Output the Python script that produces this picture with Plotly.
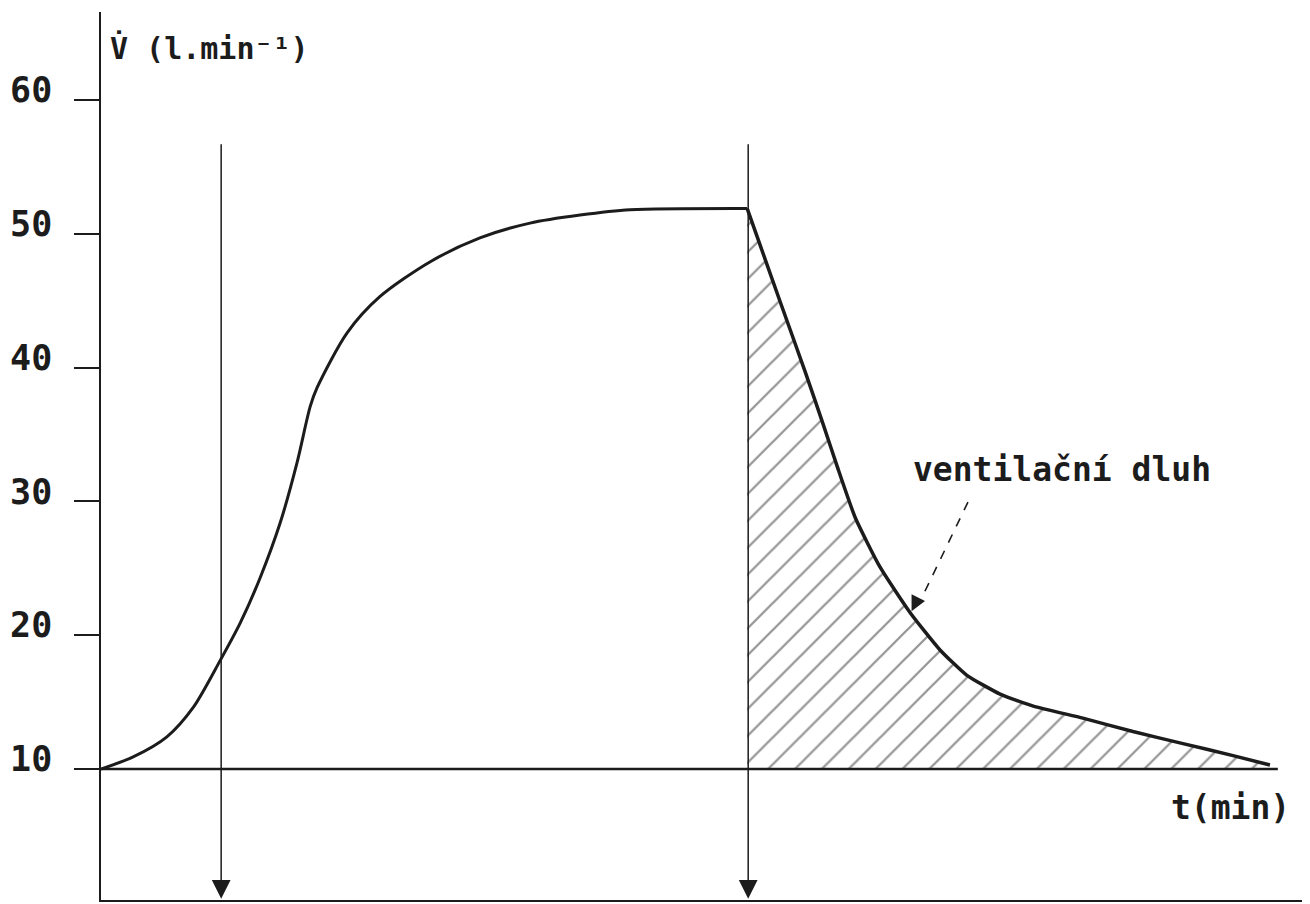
import plotly.graph_objects as go

# ventilation during and after exercise
rise_t = [0.0, 0.61, 1.25, 1.75, 2.26, 2.64, 3.02, 3.40, 3.72, 3.97, 4.10, 4.67, 5.29, 6.24, 7.19, 8.14, 9.09, 10.04, 12.26]
rise_v = [10.0, 10.9, 12.4, 14.6, 18.1, 20.9, 24.3, 28.4, 32.9, 37.1, 38.5, 42.6, 45.3, 47.9, 49.7, 50.8, 51.4, 51.8, 51.9]

decay_t = [12.26, 12.88, 13.36, 13.70, 13.97, 14.31, 14.78, 15.35, 15.92, 16.43, 17.06, 17.69, 18.63, 19.58, 20.53, 21.48, 22.18]
decay_v = [51.9, 45.0, 39.7, 35.8, 32.6, 28.8, 25.1, 21.7, 18.9, 17.0, 15.6, 14.7, 13.8, 12.8, 11.9, 11.0, 10.3]

rest_level = 10
baseline_t = [0.0, 22.33]
exercise_marks = [2.28, 12.28]

y_ticks = [10, 20, 30, 40, 50, 60]
y_ticktext = ['10', '20', '30', '40', '50', '60']

font_family = 'DejaVu Sans Mono'
ink = '#1c1c1c'

fig = go.Figure()

# hatched debt area under the recovery curve
fig.add_trace(go.Scatter(x=decay_t + [decay_t[-1], decay_t[0]],
                         y=decay_v + [rest_level, rest_level],
                         mode='lines', line={'width': 0},
                         fill='toself', fillcolor='rgba(0,0,0,0)',
                         fillpattern={'shape': '/', 'size': 19, 'solidity': 0.12,
                                      'fgcolor': '#2a2a2a', 'bgcolor': 'white'},
                         hoverinfo='skip', showlegend=False))

# resting level line
fig.add_trace(go.Scatter(x=baseline_t, y=[rest_level, rest_level], mode='lines',
                         line={'color': ink, 'width': 2.5}, showlegend=False))

fig.add_trace(go.Scatter(x=rise_t, y=rise_v, mode='lines',
                         line={'color': ink, 'width': 3, 'shape': 'spline', 'smoothing': 0.8},
                         showlegend=False))
fig.add_trace(go.Scatter(x=decay_t, y=decay_v, mode='lines',
                         line={'color': ink, 'width': 3.5, 'shape': 'spline', 'smoothing': 0.5},
                         showlegend=False))

# dashed leader for the label
fig.add_trace(go.Scatter(x=[16.45, 15.55], y=[29.95, 22.6], mode='lines',
                         line={'color': ink, 'width': 1.6, 'dash': 'dash'}, showlegend=False))

annotations = []
for t in exercise_marks:
    annotations.append(dict(x=t, y=0.3, ax=t, ay=56.8, axref='x', ayref='y',
                            xref='x', yref='y', text='', showarrow=True,
                            arrowhead=2, arrowsize=2.5, arrowwidth=1.5, arrowcolor=ink))
annotations.append(dict(x=15.38, y=21.8, ax=7, ay=-14, text='', showarrow=True,
                        arrowhead=2, arrowsize=1.5, arrowwidth=2, arrowcolor=ink))
annotations.append(dict(x=18.24, y=32.35, text='ventilační dluh', showarrow=False,
                        font={'family': font_family, 'size': 33, 'color': ink, 'weight': 'bold'}))
annotations.append(dict(x=21.44, y=7.09, text='t(min)', showarrow=False,
                        font={'family': font_family, 'size': 33, 'color': ink, 'weight': 'bold'}))
annotations.append(dict(x=0.14, y=63.9, xanchor='left', text='V\u0307 (l.min\u207b\u00b9)', showarrow=False,
                        font={'family': font_family, 'size': 30, 'color': ink, 'weight': 'bold'}))

# page body has an 8px margin, so the figure is 8px smaller and margins shifted
fig.update_layout(width=1302, height=896,
                  margin=dict(l=93, r=0, t=4, b=4),
                  plot_bgcolor='white', paper_bgcolor='white',
                  showlegend=False,
                  annotations=annotations,
                  xaxis={'range': [0, 22.94], 'showline': True, 'linecolor': ink, 'linewidth': 2,
                         'showgrid': False, 'zeroline': False, 'showticklabels': False, 'ticks': ''},
                  yaxis={'range': [0.21, 66.58], 'showline': True, 'linecolor': ink, 'linewidth': 1.5,
                         'showgrid': False, 'zeroline': False,
                         'tickvals': y_ticks, 'ticktext': y_ticktext,
                         'ticks': 'outside', 'ticklen': 25, 'tickwidth': 1.5, 'tickcolor': ink,
                         'ticklabelstandoff': 15, 'ticklabelshift': -10,
                         'tickfont': {'family': font_family, 'size': 35, 'color': ink, 'weight': 'bold'}})

fig.write_html("out.html")
